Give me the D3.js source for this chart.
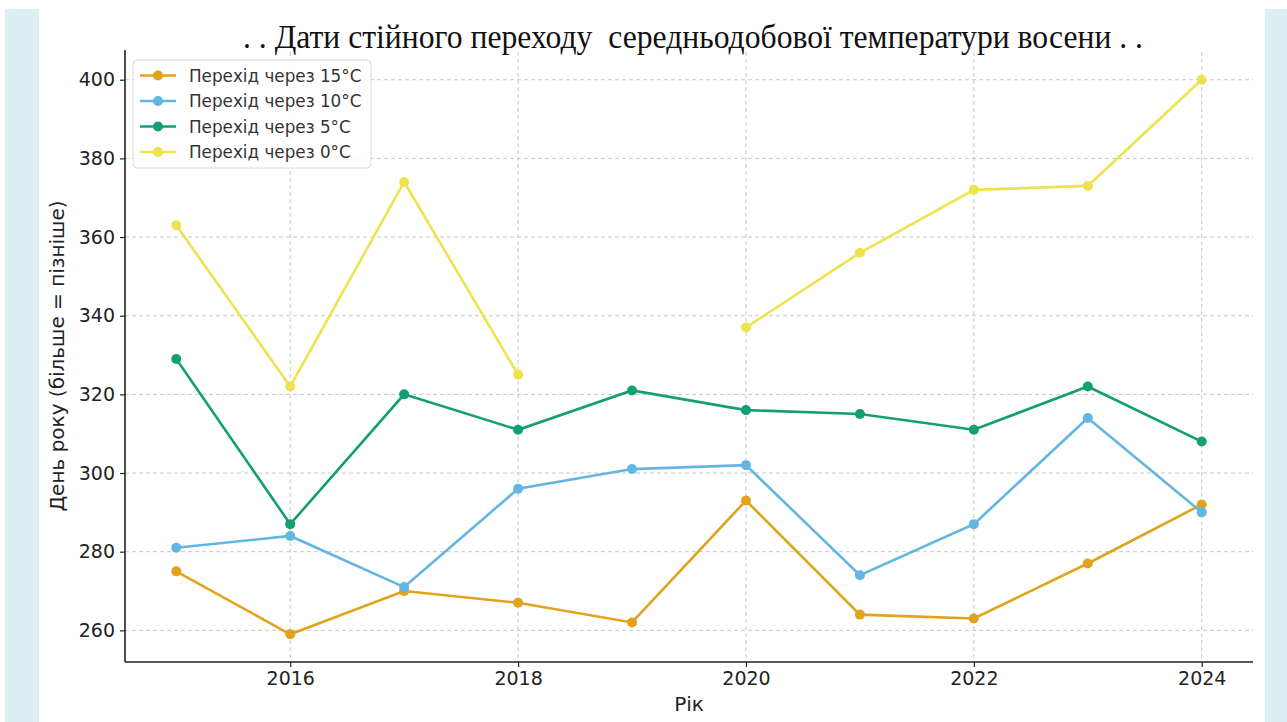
<!DOCTYPE html>
<html><head><meta charset="utf-8">
<script src="https://cdn.jsdelivr.net/npm/d3@7"></script>
<style>body{margin:0;background:#fff}svg{display:block}</style>
</head><body>
<svg id="c" width="1287" height="722"></svg>
<script>
const years = [2015,2016,2017,2018,2019,2020,2021,2022,2023,2024];
const t15 = [275,259,270,267,262,293,264,263,277,292];
const t10 = [281,284,271,296,301,302,274,287,314,290];
const t5  = [329,287,320,311,321,316,315,311,322,308];
const t0  = [363,322,374,325,null,337,356,372,373,400];
const seriesNames = ["Перехід через 15°C","Перехід через 10°C","Перехід через 5°C","Перехід через 0°C"];
const seriesColors = ["#E2A21A","#62B6E2","#139E73","#EEE24E"];
const yTicks = [260,280,300,320,340,360,380,400];
const xTicks = [2016,2018,2020,2022,2024];
const title = ". . Дати стійного переходу  середньодобової температури восени . .";
const xLabel = "Рік";
const yLabel = "День року (більше = пізніше)";

const series = [t15,t10,t5,t0];
const svg = d3.select("#c");
const W=1287,H=722;
svg.append("rect").attr("x",5).attr("y",9).attr("width",34).attr("height",H-9).attr("fill","#dbeef4");
svg.append("rect").attr("x",1265).attr("y",9).attr("width",22).attr("height",H-9).attr("fill","#dbeef4");

const m={l:125,r:1253,t:52,b:662};
const x=d3.scaleLinear().domain([2014.55,2024.45]).range([m.l,m.r]);
const y=d3.scaleLinear().domain([251.95,407.05]).range([m.b,m.t]);

// grid
const g=svg.append("g");
g.selectAll(".gx").data(xTicks).join("line").attr("x1",d=>x(d)).attr("x2",d=>x(d)).attr("y1",m.t).attr("y2",m.b)
 .attr("stroke","#c8c8c8").attr("stroke-dasharray","4,3").attr("stroke-width",1);
g.selectAll(".gy").data(yTicks).join("line").attr("y1",d=>y(d)).attr("y2",d=>y(d)).attr("x1",m.l).attr("x2",m.r)
 .attr("stroke","#c8c8c8").attr("stroke-dasharray","4,3").attr("stroke-width",1);

// axes
const xa=svg.append("g").attr("transform",`translate(0,${m.b})`).call(d3.axisBottom(x).tickValues(xTicks).tickFormat(d3.format("d")).tickSize(5).tickPadding(5));
const ya=svg.append("g").attr("transform",`translate(${m.l},0)`).call(d3.axisLeft(y).tickValues(yTicks).tickSize(5).tickPadding(5));
[xa,ya].forEach(a=>{a.select(".domain").attr("stroke","#222").attr("stroke-width",1.6);
 a.selectAll(".tick line").attr("stroke","#222").attr("stroke-width",1.2);
 a.selectAll("text").attr("font-family","DejaVu Sans").attr("font-size",19).attr("fill","#222");});
xa.select(".domain").attr("d",`M${m.l},0H${m.r}`);
ya.select(".domain").attr("d",`M0,${m.t-2}V${m.b}`);

// lines
const line=d3.line().defined(d=>d.v!=null).x(d=>x(d.yr)).y(d=>y(d.v));
series.forEach((s,i)=>{
 const pts=years.map((yr,j)=>({yr,v:s[j]}));
 svg.append("path").datum(pts).attr("d",line).attr("fill","none").attr("stroke",seriesColors[i]).attr("stroke-width",2.6);
 svg.append("g").selectAll("circle").data(pts.filter(d=>d.v!=null)).join("circle")
  .attr("cx",d=>x(d.yr)).attr("cy",d=>y(d.v)).attr("r",5).attr("fill",seriesColors[i]);
});

// legend
const lg=svg.append("g");
lg.append("rect").attr("x",133).attr("y",60).attr("width",238).attr("height",108).attr("rx",4)
 .attr("fill","#fff").attr("fill-opacity",0.85).attr("stroke","#d8d8d8");
seriesNames.forEach((n,i)=>{
 const yy=75.5+i*25.5;
 lg.append("line").attr("x1",140).attr("x2",176).attr("y1",yy).attr("y2",yy).attr("stroke",seriesColors[i]).attr("stroke-width",2.6);
 lg.append("circle").attr("cx",158).attr("cy",yy).attr("r",5).attr("fill",seriesColors[i]);
 lg.append("text").attr("x",189).attr("y",yy+6).text(n).attr("font-family","DejaVu Sans").attr("font-size",16.8).attr("fill","#333");
});

// labels
svg.append("text").attr("x",689).attr("y",711).attr("text-anchor","middle").text(xLabel)
 .attr("font-family","DejaVu Sans").attr("font-size",20).attr("fill","#222");
svg.append("text").attr("transform",`translate(64,${356}) rotate(-90)`).attr("text-anchor","middle").text(yLabel)
 .attr("font-family","DejaVu Sans").attr("font-size",20).attr("fill","#222");
svg.append("text").attr("x",243).attr("y",48).text(title).style("white-space","pre")
 .attr("textLength",900).attr("lengthAdjust","spacingAndGlyphs")
 .attr("font-family","Liberation Serif").attr("font-size",33).attr("fill","#111");
</script>
</body></html>
